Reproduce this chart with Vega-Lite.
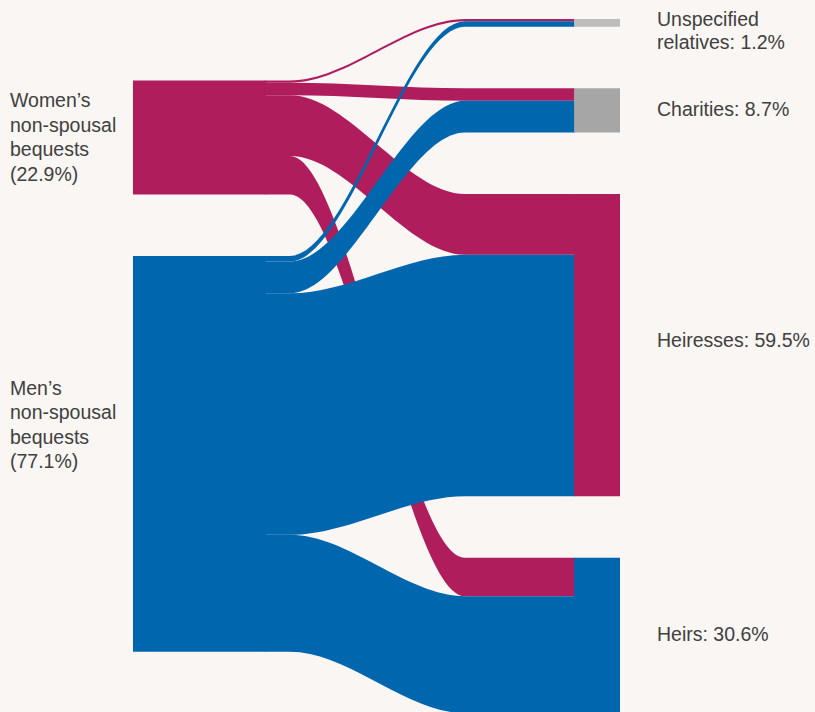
{
  "$schema": "https://vega.github.io/schema/vega-lite/v6.json",
  "width": 815,
  "height": 712,
  "padding": 0,
  "autosize": {"type": "none"},
  "background": "#F9F6F3",
  "config": {"view": {"stroke": null}},
  "datasets": {
    "links": [
      {"source": "Women", "target": "Unspecified relatives", "value": 0.45, "sourceRank": 0, "targetRank": 0},
      {"source": "Women", "target": "Charities", "value": 2.45, "sourceRank": 0, "targetRank": 1},
      {"source": "Women", "target": "Heiresses", "value": 11.95, "sourceRank": 0, "targetRank": 2},
      {"source": "Women", "target": "Heirs", "value": 7.6, "sourceRank": 0, "targetRank": 3},
      {"source": "Men", "target": "Unspecified relatives", "value": 1.1, "sourceRank": 1, "targetRank": 0},
      {"source": "Men", "target": "Charities", "value": 6.25, "sourceRank": 1, "targetRank": 1},
      {"source": "Men", "target": "Heiresses", "value": 47.55, "sourceRank": 1, "targetRank": 2},
      {"source": "Men", "target": "Heirs", "value": 23.0, "sourceRank": 1, "targetRank": 3}
    ]
  },
  "data": {"name": "links"},
  "transform": [
    {"window": [{"op": "sum", "field": "value", "as": "sCum"}], "sort": [{"field": "sourceRank"}, {"field": "targetRank"}], "frame": [null, 0]},
    {"window": [{"op": "sum", "field": "value", "as": "tCum"}], "sort": [{"field": "targetRank"}, {"field": "sourceRank"}], "frame": [null, 0]},
    {"calculate": "datum.sCum + 12.1 * (datum.sourceRank + 1)", "as": "sBot"},
    {"calculate": "datum.sBot - datum.value", "as": "sTop"},
    {"calculate": "datum.tCum + 12.1 * datum.targetRank", "as": "tBot"},
    {"calculate": "datum.tBot - datum.value", "as": "tTop"}
  ],
  "layer": [
    {
      "transform": [
        {"filter": "datum.source === 'Women'"},
        {"calculate": "[0, 0.0806, 0.6452, 1]", "as": "xs"},
        {"flatten": ["xs"], "as": ["x"]},
        {"calculate": "datum.x < 0.5 ? datum.sTop : datum.tTop", "as": "yTop"},
        {"calculate": "datum.x < 0.5 ? datum.sBot : datum.tBot", "as": "yBot"}
      ],
      "mark": {"type": "area", "interpolate": "monotone"},
      "encoding": {
        "x": {"field": "x", "type": "quantitative", "scale": {"domain": [-0.8548, 1.7742], "nice": false, "zero": false}, "axis": null},
        "y": {"field": "yTop", "type": "quantitative", "stack": null, "scale": {"domain": [-3.74, 136.42], "reverse": true, "nice": false, "zero": false}, "axis": null},
        "y2": {"field": "yBot"},
        "detail": {"field": "target"},
        "color": {"field": "source", "type": "nominal", "legend": null,
          "scale": {"domain": ["Women", "Men", "Unspecified relatives", "Charities", "Heiresses", "Heirs"], "range": ["#AF1D5D", "#0066AD", "#BDBDBD", "#A6A6A6", "#AF1D5D", "#0066AD"]}}
      }
    },
    {
      "transform": [
        {"filter": "datum.source === 'Men'"},
        {"calculate": "[0, 0.0806, 0.6452, 1]", "as": "xs"},
        {"flatten": ["xs"], "as": ["x"]},
        {"calculate": "datum.x < 0.5 ? datum.sTop : datum.tTop", "as": "yTop"},
        {"calculate": "datum.x < 0.5 ? datum.sBot : datum.tBot", "as": "yBot"}
      ],
      "mark": {"type": "area", "interpolate": "monotone"},
      "encoding": {
        "x": {"field": "x", "type": "quantitative", "axis": null},
        "y": {"field": "yTop", "type": "quantitative", "stack": null, "axis": null},
        "y2": {"field": "yBot"},
        "detail": {"field": "target"},
        "color": {"field": "source", "type": "nominal", "legend": null}
      }
    },
    {
      "transform": [
        {"aggregate": [{"op": "min", "field": "sTop", "as": "top"}, {"op": "max", "field": "sBot", "as": "bot"}], "groupby": ["source"]},
        {"calculate": "(datum.top + datum.bot) / 2", "as": "mid"},
        {"lookup": "source", "from": {"data": {"values": [
          {"node": "Women", "label": "Women’s\nnon-spousal\nbequests\n(22.9%)"},
          {"node": "Men", "label": "Men’s\nnon-spousal\nbequests\n(77.1%)"}
        ]}, "key": "node", "fields": ["label"]}}
      ],
      "layer": [
        {
          "mark": {"type": "rect"},
          "encoding": {
            "x": {"datum": -0.4258, "type": "quantitative", "axis": null},
            "x2": {"datum": 0.003},
            "y": {"field": "top", "type": "quantitative", "axis": null},
            "y2": {"field": "bot"},
            "color": {"field": "source", "type": "nominal", "legend": null}
          }
        },
        {
          "transform": [{"filter": "datum.source === 'Women'"}],
          "mark": {"type": "text", "align": "left", "baseline": "middle", "lineBreak": "\n", "font": "Liberation Sans", "fontSize": 19.5, "lineHeight": 24.5, "color": "#404040", "dy": -36},
          "encoding": {
            "x": {"datum": -0.8226, "type": "quantitative", "axis": null},
            "y": {"field": "mid", "type": "quantitative", "axis": null},
            "text": {"field": "label", "type": "nominal"}
          }
        },
        {
          "transform": [{"filter": "datum.source === 'Men'"}],
          "mark": {"type": "text", "align": "left", "baseline": "middle", "lineBreak": "\n", "font": "Liberation Sans", "fontSize": 19.5, "lineHeight": 24.5, "color": "#404040", "dy": -65},
          "encoding": {
            "x": {"datum": -0.8226, "type": "quantitative", "axis": null},
            "y": {"field": "mid", "type": "quantitative", "axis": null},
            "text": {"field": "label", "type": "nominal"}
          }
        }
      ]
    },
    {
      "transform": [
        {"aggregate": [{"op": "min", "field": "tTop", "as": "top"}, {"op": "max", "field": "tBot", "as": "bot"}], "groupby": ["target"]},
        {"calculate": "(datum.top + datum.bot) / 2", "as": "mid"},
        {"lookup": "target", "from": {"data": {"values": [
          {"node": "Unspecified relatives", "label": "Unspecified\nrelatives: 1.2%"},
          {"node": "Charities", "label": "Charities: 8.7%"},
          {"node": "Heiresses", "label": "Heiresses: 59.5%"},
          {"node": "Heirs", "label": "Heirs: 30.6%"}
        ]}, "key": "node", "fields": ["label"]}}
      ],
      "layer": [
        {
          "mark": {"type": "rect"},
          "encoding": {
            "x": {"datum": 0.997, "type": "quantitative", "axis": null},
            "x2": {"datum": 1.1452},
            "y": {"field": "top", "type": "quantitative", "axis": null},
            "y2": {"field": "bot"},
            "color": {"field": "target", "type": "nominal", "legend": null}
          }
        },
        {
          "transform": [{"filter": "datum.target === 'Charities' || datum.target === 'Heirs'"}],
          "mark": {"type": "text", "align": "left", "baseline": "middle", "lineBreak": "\n", "font": "Liberation Sans", "fontSize": 19.5, "lineHeight": 24.5, "color": "#404040", "dy": 0},
          "encoding": {
            "x": {"datum": 1.2645, "type": "quantitative", "axis": null},
            "y": {"field": "mid", "type": "quantitative", "axis": null},
            "text": {"field": "label", "type": "nominal"}
          }
        },
        {
          "transform": [{"filter": "datum.target === 'Heiresses'"}],
          "mark": {"type": "text", "align": "left", "baseline": "middle", "lineBreak": "\n", "font": "Liberation Sans", "fontSize": 19.5, "lineHeight": 24.5, "color": "#404040", "dy": -4},
          "encoding": {
            "x": {"datum": 1.2645, "type": "quantitative", "axis": null},
            "y": {"field": "mid", "type": "quantitative", "axis": null},
            "text": {"field": "label", "type": "nominal"}
          }
        },
        {
          "transform": [{"filter": "datum.target === 'Unspecified relatives'"}],
          "mark": {"type": "text", "align": "left", "baseline": "middle", "lineBreak": "\n", "font": "Liberation Sans", "fontSize": 19.5, "lineHeight": 23.5, "color": "#404040", "dy": -3},
          "encoding": {
            "x": {"datum": 1.2645, "type": "quantitative", "axis": null},
            "y": {"field": "mid", "type": "quantitative", "axis": null},
            "text": {"field": "label", "type": "nominal"}
          }
        }
      ]
    }
  ]
}
